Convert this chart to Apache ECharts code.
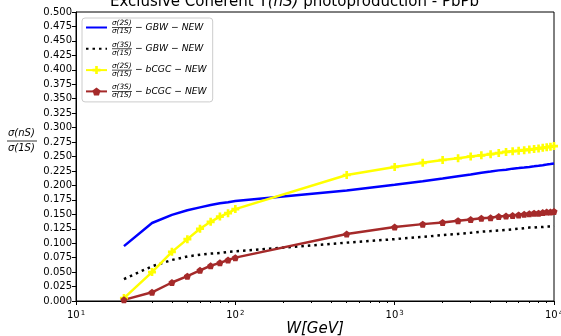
<!DOCTYPE html>
<html>
<head>
<meta charset="utf-8">
<script src="https://cdn.jsdelivr.net/npm/echarts@6/dist/echarts.min.js"></script>
<style>
  html, body { margin: 0; padding: 0; background: #fff; }
  #chart { width: 561px; height: 336px; }
</style>
</head>
<body>
<div id="chart"></div>
<script>
// photon-nucleus energy W (GeV)
const wValues = [20, 30, 40, 50, 60, 70, 80, 90, 100, 500, 1000, 1500, 2000, 2500, 3000, 3500, 4000, 4500,
  5000, 5500, 6000, 6500, 7000, 7500, 8000, 8500, 9000, 9500, 10000];

const gbw2S = [0.095, 0.135, 0.149, 0.157, 0.162, 0.166, 0.169, 0.171, 0.173, 0.191, 0.201, 0.207, 0.212, 0.216,
  0.219, 0.222, 0.224, 0.226, 0.227, 0.229, 0.230, 0.231, 0.232, 0.233, 0.234, 0.235, 0.236, 0.237, 0.238];
const gbw3S = [0.038, 0.060, 0.071, 0.077, 0.080, 0.082, 0.083, 0.085, 0.086, 0.101, 0.107, 0.111, 0.114, 0.116,
  0.118, 0.120, 0.121, 0.122, 0.123, 0.124, 0.125, 0.126, 0.127, 0.127, 0.128, 0.128, 0.129, 0.129, 0.130];
const bcgc2S = [0.005, 0.050, 0.085, 0.107, 0.125, 0.137, 0.146, 0.152, 0.159, 0.218, 0.232, 0.239, 0.244, 0.247,
  0.250, 0.252, 0.254, 0.256, 0.258, 0.259, 0.260, 0.261, 0.262, 0.263, 0.264, 0.265, 0.266, 0.267, 0.268];
const bcgc3S = [0.002, 0.015, 0.032, 0.043, 0.053, 0.061, 0.066, 0.071, 0.075, 0.116, 0.128, 0.133, 0.136, 0.139,
  0.141, 0.143, 0.144, 0.146, 0.147, 0.148, 0.149, 0.150, 0.151, 0.152, 0.152, 0.153, 0.154, 0.154, 0.155];

const minorW = [20, 30, 40, 50, 60, 70, 80, 90, 200, 300, 400, 500, 600, 700, 800, 900,
  2000, 3000, 4000, 5000, 6000, 7000, 8000, 9000];

const legendNames = ['GBW 2S', 'GBW 3S', 'bCGC 2S', 'bCGC 3S'];
const legendFracs = ['σ(2S)', 'σ(3S)', 'σ(2S)', 'σ(3S)'];
const legendTexts = ['− GBW − NEW', '− GBW − NEW', '− bCGC − NEW', '− bCGC − NEW'];

const plusIcon = 'path://M-1,-0.33 L-0.33,-0.33 L-0.33,-1 L0.33,-1 L0.33,-0.33 L1,-0.33 L1,0.33 L0.33,0.33 L0.33,1 L-0.33,1 L-0.33,0.33 L-1,0.33 Z';
const pentIcon = 'path://M0,-1 L0.951,-0.309 L0.588,0.809 L-0.588,0.809 L-0.951,-0.309 Z';
const clear = 'rgba(0,0,0,0)';

function pairs(ys) {
  return wValues.map((w, i) => [w, ys[i]]);
}

var chartDom = document.getElementById('chart');
var myChart = echarts.init(chartDom);
var option;

const font = 'DejaVu Sans';

option = {
  animation: false,
  backgroundColor: '#fff',
  title: {
    text: 'Exclusive Coherent Υ{i|(nS)} photoproduction - PbPb',
    left: 110,
    top: -5,
    padding: 0,
    textStyle: {
      fontFamily: font, fontSize: 15, fontWeight: 'normal', color: '#000',
      rich: { i: { fontFamily: font, fontSize: 15, fontStyle: 'italic', color: '#000' } }
    }
  },
  grid: {
    left: 76, right: 7, top: 12, bottom: 35,
    outerBoundsMode: 'none',
    containLabel: false,
    show: true, borderColor: '#000', borderWidth: 1
  },
  legend: {
    data: legendNames,
    orient: 'vertical',
    left: 82, top: 18,
    padding: [2, 6, 3, 3],
    itemWidth: 21, itemHeight: 10, itemGap: 6.3,
    borderColor: '#ccc', borderWidth: 1, borderRadius: 3,
    backgroundColor: 'rgba(255,255,255,0.8)',
    formatter: (name) => {
      const i = legendNames.indexOf(name);
      return '{n|' + legendFracs[i] + '}{d|σ(1S)}{bar|}{t|' + legendTexts[i] + '}';
    },
    textStyle: {
      rich: {
        n: { fontFamily: font, fontStyle: 'italic', fontSize: 7.3, color: '#000', width: 0, lineHeight: 7.5,
          verticalAlign: 'top' },
        d: { fontFamily: font, fontStyle: 'italic', fontSize: 7.3, color: '#000', width: 0, lineHeight: 7.5,
          verticalAlign: 'bottom' },
        bar: { width: 20, height: 0.7, backgroundColor: '#000', verticalAlign: 'middle' },
        t: { fontFamily: font, fontStyle: 'italic', fontSize: 9.2, color: '#000', lineHeight: 15,
          padding: [0, 0, 0, 3] }
      }
    }
  },
  xAxis: [
    {
      type: 'log',
      logBase: 10,
      min: 10, max: 10000,
      name: 'W[GeV]',
      nameLocation: 'middle',
      nameGap: 21,
      nameMoveOverlap: false,
      nameTextStyle: { fontFamily: font, fontSize: 15, fontStyle: 'italic', color: '#000' },
      axisLine: { lineStyle: { color: '#000', width: 1 } },
      axisTick: { inside: false, length: 4, lineStyle: { color: '#000' } },
      splitLine: { show: false },
      axisLabel: {
        margin: 9,
        color: '#000',
        formatter: (v) => '{b|10}{s|' + Math.round(Math.log10(v)) + '}',
        rich: {
          b: { fontFamily: font, fontSize: 10, color: '#000', verticalAlign: 'bottom' },
          s: { fontFamily: font, fontSize: 7, color: '#000', verticalAlign: 'top', padding: [0, 0, 0, 1] }
        }
      }
    },
    {
      type: 'log',
      logBase: 10,
      min: 10, max: 10000,
      position: 'bottom',
      axisLine: { show: false },
      axisLabel: { show: false },
      splitLine: { show: false },
      axisTick: { show: true, length: 2, customValues: minorW, lineStyle: { color: '#000' } }
    }
  ],
  yAxis: {
    type: 'value',
    min: 0, max: 0.5, interval: 0.025,
    axisLine: { show: true, lineStyle: { color: '#000' } },
    axisTick: { show: true, length: 4, lineStyle: { color: '#000' } },
    splitLine: { show: false },
    axisLabel: {
      margin: 4,
      fontFamily: font, fontSize: 10, color: '#000',
      formatter: (v) => v.toFixed(3)
    }
  },
  graphic: [
    {
      type: 'text', left: 8, top: 128,
      style: { text: 'σ(nS)', font: 'italic 10px "DejaVu Sans"', fill: '#000' }
    },
    {
      type: 'line', shape: { x1: 7, y1: 141, x2: 37, y2: 141 },
      style: { stroke: '#000', lineWidth: 0.8 }
    },
    {
      type: 'text', left: 8, top: 143,
      style: { text: 'σ(1S)', font: 'italic 10px "DejaVu Sans"', fill: '#000' }
    }
  ],
  series: [
    {
      name: 'GBW 2S', type: 'line', data: pairs(gbw2S),
      symbol: 'circle', showSymbol: false,
      itemStyle: { color: clear, borderWidth: 0 },
      lineStyle: { color: '#0000ff', width: 2.5 }
    },
    {
      name: 'GBW 3S', type: 'line', data: pairs(gbw3S),
      symbol: 'circle', showSymbol: false,
      itemStyle: { color: clear, borderWidth: 0 },
      lineStyle: { color: '#000000', width: 2.5, type: [2.5, 4], cap: 'butt' }
    },
    {
      name: 'bCGC 2S', type: 'line', data: pairs(bcgc2S),
      symbol: plusIcon, symbolSize: 8, color: '#ffff00',
      itemStyle: { color: '#ffff00' },
      lineStyle: { color: '#ffff00', width: 2.5 }
    },
    {
      name: 'bCGC 3S', type: 'line', data: pairs(bcgc3S),
      symbol: pentIcon, symbolSize: 7, color: '#a52a2a',
      itemStyle: { color: '#a52a2a' },
      lineStyle: { color: '#a52a2a', width: 2.5 }
    }
  ]
};

option && myChart.setOption(option);
</script>
</body>
</html>
